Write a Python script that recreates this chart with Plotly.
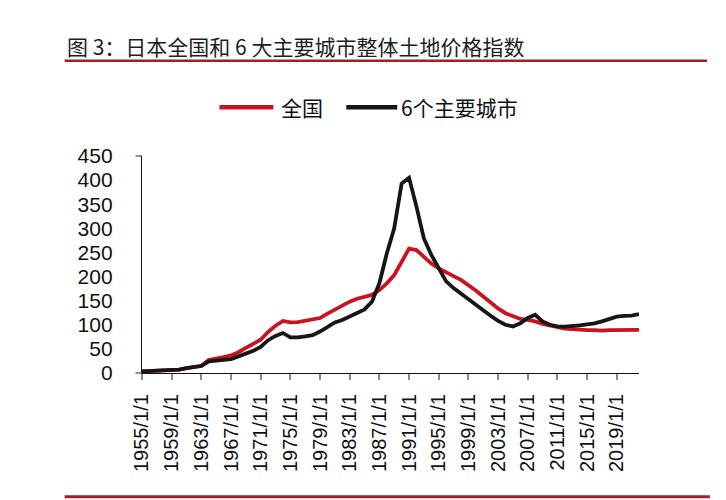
import plotly.graph_objects as go

years = list(range(1955, 2023))
national = [3.5, 4, 4.5, 4.8, 5, 7, 10, 12, 15, 27, 31, 33, 36.5, 43, 52, 60, 69, 85, 98, 108,
            105, 105.5, 108, 110, 114, 123, 132, 141, 148, 154, 158.5, 162, 172, 186, 203, 231,
            258, 255, 241, 227, 217, 208, 201, 193, 183, 171, 158.5, 146, 134, 124, 117, 112,
            110, 107, 102, 98.6, 95, 92, 91, 89.6, 89, 89, 88, 89, 89.6, 90, 90, 89.6]
six_cities = [3.5, 4, 4.5, 4.8, 5, 7, 10, 12, 14.5, 24, 26, 27, 29, 34.5, 40, 46, 54, 68, 77, 83,
              74, 74, 76, 78.6, 86, 96.5, 105, 110, 117, 124, 132, 148, 186, 248, 300, 393,
              405, 345, 279, 245, 217, 190, 176, 165, 153, 141, 130, 118.6, 108, 100, 96.5, 103,
              114, 120.6, 107, 100, 96.5, 96, 96.5, 98.6, 101, 103, 107, 112, 117, 118.6, 119, 122]
series_names = ["全国", "6个主要城市"]
tick_years = list(range(1955, 2020, 4))
tick_labels = [f"{y}/1/1" for y in tick_years]
y_ticks = [0, 50, 100, 150, 200, 250, 300, 350, 400, 450]

title_text = "图 3：日本全国和 6 大主要城市整体土地价格指数"
RED = "#c9141f"
BLACK = "#161616"
RULE = "#9e2128"
FONT = "Liberation Sans, Arial, Noto Sans CJK SC, sans-serif"
CJK = "Noto Sans CJK SC, sans-serif"

# plot-area pixel geometry
L, R, T, B = 141.5, 639, 155.5, 373.3
W, H = 726, 500
PW, PH = R - L, B - T

def px(x):
    return (x - L) / PW

def py(y):
    return (B - y) / PH

fig = go.Figure()
fig.add_trace(go.Scatter(x=years, y=national, mode="lines", name=series_names[0],
                         line=dict(color=RED, width=3.8)))
fig.add_trace(go.Scatter(x=years, y=six_cities, mode="lines", name=series_names[1],
                         line=dict(color=BLACK, width=3.8)))

fig.update_layout(
    width=W, height=H,
    margin=dict(l=L, r=W - R, t=T, b=H - B, pad=0),
    plot_bgcolor="white", paper_bgcolor="white",
    font=dict(family=FONT, color="#111111", size=20),
    showlegend=False,
    xaxis=dict(range=[1955, 2022], tickvals=tick_years, ticktext=tick_labels,
               tickangle=-90, ticks="outside", ticklen=6, tickwidth=1.6, tickcolor="#8a8a8a",
               showline=True, linecolor="#111111", linewidth=1.3, showgrid=False,
               zeroline=False, tickfont=dict(size=20), ticklabelstandoff=6),
    yaxis=dict(range=[0, 450], tickvals=y_ticks, ticks="", showline=True,
               linecolor="#111111", linewidth=1.3, showgrid=False, zeroline=False,
               tickfont=dict(size=21), ticklabelstandoff=24),
)

# title and rules
fig.add_annotation(text=title_text, xref="paper", yref="paper", x=px(64), y=py(45),
                   xanchor="left", yanchor="middle", showarrow=False,
                   font=dict(size=21, family=CJK, color="#1e1e1e"))
fig.add_shape(type="line", xref="paper", yref="paper", x0=px(64), x1=px(707), y0=py(60), y1=py(60),
              line=dict(color=RULE, width=2.5))
fig.add_shape(type="line", xref="paper", yref="paper", x0=px(64), x1=px(710), y0=py(497.5), y1=py(497.5),
              line=dict(color=RULE, width=3))

# small end stubs on the y axis
for yv in (155.5, 373.3):
    fig.add_shape(type="line", xref="paper", yref="paper", x0=px(135), x1=px(141.5), y0=py(yv), y1=py(yv),
                  line=dict(color="#555555", width=1.3))

# legend drawn manually
legend_items = [(series_names[0], RED, 219, 273, 279), (series_names[1], BLACK, 346, 397, 399)]
for name, col, x0, x1, tx in legend_items:
    fig.add_shape(type="line", xref="paper", yref="paper", x0=px(x0), x1=px(x1), y0=py(106.5), y1=py(106.5),
                  line=dict(color=col, width=4.5))
    fig.add_annotation(text=name, xref="paper", yref="paper", x=px(tx), y=py(106),
                       xanchor="left", yanchor="middle", showarrow=False,
                       font=dict(size=21, family=CJK, color="#111111"))

fig.write_html("out.html", config={"displayModeBar": False},
               post_script="document.body.style.margin='0';")
